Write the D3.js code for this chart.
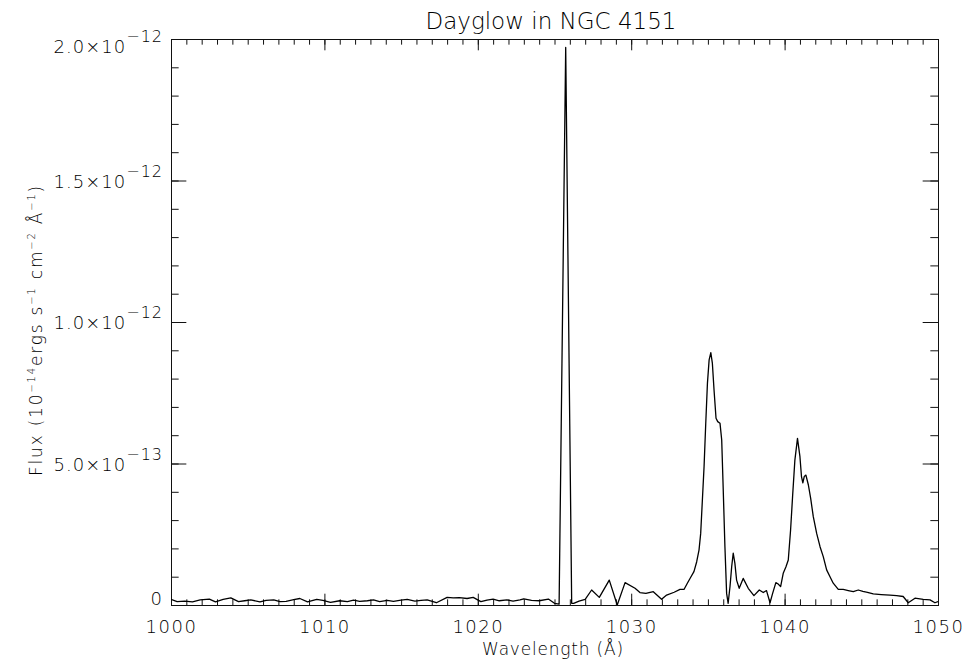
<!DOCTYPE html>
<html>
<head>
<meta charset="utf-8">
<script src="https://cdn.jsdelivr.net/npm/d3@7"></script>
<style>
    body { margin: 0; background: #fff; }
    text { font-family: "DejaVu Sans", sans-serif; font-weight: 300; fill: #000; }
</style>
</head>
<body>
<svg id="chart" width="964" height="664"></svg>
<script>
// -DATA-
// wavelength in angstrom
const wavelength = [
    1000.0, 1000.4, 1000.9, 1001.4, 1001.9, 1002.5, 1002.9, 1003.4, 1003.9, 1004.4,
    1004.8, 1005.2, 1005.8, 1006.2, 1006.7, 1007.1, 1007.5, 1008.0, 1008.4, 1008.9,
    1009.5, 1009.9, 1010.4, 1011.0, 1011.5, 1011.9, 1012.3, 1012.8, 1013.2, 1013.6,
    1014.1, 1014.5, 1015.0, 1015.4, 1015.9, 1016.3, 1016.7, 1017.3, 1018.0, 1018.4,
    1018.8, 1019.3, 1019.7, 1020.2, 1020.6, 1021.0, 1021.4, 1021.9, 1022.3, 1022.75,
    1023.0, 1023.5, 1024.0, 1024.6, 1025.0, 1025.3, 1025.73, 1026.12, 1026.25, 1026.6,
    1027.0, 1027.42, 1027.92, 1028.57, 1029.09, 1029.6, 1030.25, 1030.57, 1030.96, 1031.44,
    1031.98, 1032.31, 1032.8, 1033.18, 1033.44, 1033.66, 1033.88, 1034.09, 1034.27, 1034.42,
    1034.53, 1034.64, 1034.75, 1034.86, 1034.97, 1035.08, 1035.19, 1035.29, 1035.40, 1035.53,
    1035.64, 1035.79, 1035.90, 1036.00, 1036.11, 1036.22, 1036.32, 1036.44, 1036.55, 1036.65,
    1036.76, 1036.87, 1037.04, 1037.30, 1037.63, 1038.00, 1038.35, 1038.61, 1038.82, 1039.05,
    1039.22, 1039.43, 1039.58, 1039.74, 1039.91, 1040.09, 1040.24, 1040.39, 1040.52, 1040.67,
    1040.84, 1041.00, 1041.10, 1041.19, 1041.28, 1041.39, 1041.55, 1041.70, 1041.87, 1042.09,
    1042.31, 1042.52, 1042.74, 1042.96, 1043.17, 1043.50, 1043.82, 1044.15, 1044.48, 1044.80,
    1045.10, 1045.40, 1045.78, 1046.30, 1046.87, 1047.30, 1047.73, 1048.06, 1048.50, 1049.04,
    1049.48, 1049.80, 1050.0
];

// flux in units of 1e-12
const flux = [
    0.020, 0.012, 0.014, 0.011, 0.018, 0.021, 0.011, 0.020, 0.025, 0.012,
    0.015, 0.018, 0.011, 0.016, 0.018, 0.012, 0.013, 0.019, 0.023, 0.011,
    0.020, 0.016, 0.009, 0.015, 0.012, 0.017, 0.013, 0.015, 0.018, 0.012,
    0.016, 0.013, 0.017, 0.020, 0.014, 0.016, 0.018, 0.008, 0.027, 0.025,
    0.026, 0.023, 0.027, 0.012, 0.017, 0.021, 0.015, 0.018, 0.014, 0.018,
    0.022, 0.016, 0.015, 0.021, 0.006, 0.003, 1.970, 0.006, 0.006, 0.014,
    0.020, 0.053, 0.027, 0.088, 0.000, 0.079, 0.059, 0.044, 0.041, 0.047,
    0.020, 0.035, 0.045, 0.055, 0.055, 0.077, 0.098, 0.118, 0.153, 0.194,
    0.253, 0.371, 0.489, 0.642, 0.784, 0.866, 0.892, 0.855, 0.760, 0.660,
    0.648, 0.642, 0.583, 0.406, 0.206, 0.041, 0.006, 0.065, 0.135, 0.183,
    0.147, 0.088, 0.059, 0.094, 0.059, 0.033, 0.053, 0.044, 0.051, 0.008,
    0.041, 0.079, 0.074, 0.065, 0.112, 0.135, 0.159, 0.265, 0.383, 0.512,
    0.589, 0.524, 0.454, 0.432, 0.454, 0.459, 0.424, 0.377, 0.312, 0.253,
    0.206, 0.171, 0.124, 0.100, 0.077, 0.055, 0.055, 0.051, 0.047, 0.053,
    0.048, 0.045, 0.039, 0.037, 0.035, 0.033, 0.030, 0.008, 0.024, 0.020,
    0.018, 0.008, 0.012
];

// ticks
const xTicks = [1000, 1010, 1020, 1030, 1040, 1050];
const yTicks = [0, 0.5, 1.0, 1.5, 2.0];
const yTickMant = ["0", "5.0×10", "1.0×10", "1.5×10", "2.0×10"];
const yTickExp = ["", "−13", "−12", "−12", "−12"];

// -SETUP-
const margin = { top: 39, right: 26, bottom: 59, left: 171 };
const w = 964 - margin.left - margin.right;
const h = 664 - margin.top - margin.bottom;

const svg = d3.select("#chart");
const g = svg.append("g")
    .attr("transform", "translate(" + margin.left + "," + margin.top + ")");

const x = d3.scaleLinear().domain([1000, 1050]).range([0, w]);
const y = d3.scaleLinear().domain([0, 2]).range([h, 0]);

// tick lengths like IDL (fraction of the plot box)
const xMajor = 0.02 * h, xMinor = xMajor / 2;
const yMajor = 0.02 * w, yMinor = yMajor / 2;
const xMinorVals = d3.range(1000, 1051, 1);
const yMinorVals = d3.range(0, 21, 1).map(d => d / 10);

// -AXES-
function strip(sel) {
    sel.select(".domain").remove();
    sel.selectAll("line").attr("stroke", "#111");
}

g.append("g").attr("transform", "translate(0," + h + ")")
    .call(d3.axisBottom(x).tickValues(xMinorVals).tickSizeInner(-xMinor).tickSizeOuter(0).tickFormat(""))
    .call(strip);
const xAxis = g.append("g").attr("transform", "translate(0," + h + ")")
    .call(d3.axisBottom(x).tickValues(xTicks).tickSizeInner(-xMajor).tickSizeOuter(0).tickPadding(15).tickFormat(d3.format("d")))
    .call(strip);
xAxis.selectAll("text")
    .style("font-family", "DejaVu Sans")
    .style("font-size", "18px")
    .style("letter-spacing", "1.5px")
    .attr("fill", "#000");

g.append("g")
    .call(d3.axisTop(x).tickValues(xMinorVals).tickSizeInner(-xMinor).tickSizeOuter(0).tickFormat(""))
    .call(strip);
g.append("g")
    .call(d3.axisTop(x).tickValues(xTicks).tickSizeInner(-xMajor).tickSizeOuter(0).tickFormat(""))
    .call(strip);

g.append("g")
    .call(d3.axisLeft(y).tickValues(yMinorVals).tickSizeInner(-yMinor).tickSizeOuter(0).tickFormat(""))
    .call(strip);
g.append("g")
    .call(d3.axisLeft(y).tickValues(yTicks).tickSizeInner(-yMajor).tickSizeOuter(0).tickFormat(""))
    .call(strip);
g.append("g").attr("transform", "translate(" + w + ",0)")
    .call(d3.axisRight(y).tickValues(yMinorVals).tickSizeInner(-yMinor).tickSizeOuter(0).tickFormat(""))
    .call(strip);
g.append("g").attr("transform", "translate(" + w + ",0)")
    .call(d3.axisRight(y).tickValues(yTicks).tickSizeInner(-yMajor).tickSizeOuter(0).tickFormat(""))
    .call(strip);

// frame
g.append("rect")
    .attr("x", 0.5).attr("y", 0.5)
    .attr("width", w).attr("height", h)
    .attr("fill", "none")
    .attr("stroke", "#111");

// y tick labels with exponent
const yLab = g.append("g").selectAll("text")
    .data(yTicks)
    .enter()
    .append("text")
    .attr("x", -8)
    .attr("y", (d, i) => y(d) + (i === 0 ? 0 : (d === 2 ? 14 : 7)))
    .attr("text-anchor", "end")
    .style("font-size", "18px")
    .style("letter-spacing", "1px");
yLab.append("tspan").text((d, i) => yTickMant[i]);
yLab.append("tspan")
    .attr("dy", -11)
    .style("font-size", "16px")
    .text((d, i) => yTickExp[i]);

// -SPECTRUM-
g.append("clipPath").attr("id", "clip")
    .append("rect").attr("width", w).attr("height", h);

const line = d3.line()
    .x(d => x(d[0]))
    .y(d => y(d[1]));

g.append("path")
    .datum(wavelength.map((d, i) => [d, flux[i]]))
    .attr("clip-path", "url(#clip)")
    .attr("fill", "none")
    .attr("stroke", "#000")
    .attr("stroke-width", 1.3)
    .attr("stroke-linejoin", "round")
    .attr("d", line);

// -TITLES-
svg.append("text")
    .attr("x", 551)
    .attr("y", 29)
    .attr("text-anchor", "middle")
    .style("font-size", "23px")
    .text("Dayglow in NGC 4151");

svg.append("text")
    .attr("x", 553)
    .attr("y", 655)
    .attr("text-anchor", "middle")
    .style("font-size", "17px")
    .style("letter-spacing", "0.8px")
    .text("Wavelength (Å)");

const yTitle = svg.append("text")
    .attr("transform", "translate(42,330) rotate(-90)")
    .attr("text-anchor", "middle")
    .style("font-size", "17px")
    .style("letter-spacing", "1.8px");
yTitle.append("tspan").text("Flux (10");
yTitle.append("tspan").attr("dy", -7).style("font-size", "10px").text("−14");
yTitle.append("tspan").attr("dy", 7).text("ergs s");
yTitle.append("tspan").attr("dy", -7).style("font-size", "10px").text("−1");
yTitle.append("tspan").attr("dy", 7).text(" cm");
yTitle.append("tspan").attr("dy", -7).style("font-size", "10px").text("−2");
yTitle.append("tspan").attr("dy", 7).text(" Å");
yTitle.append("tspan").attr("dy", -7).style("font-size", "10px").text("−1");
yTitle.append("tspan").attr("dy", 7).text(")");
</script>
</body>
</html>
